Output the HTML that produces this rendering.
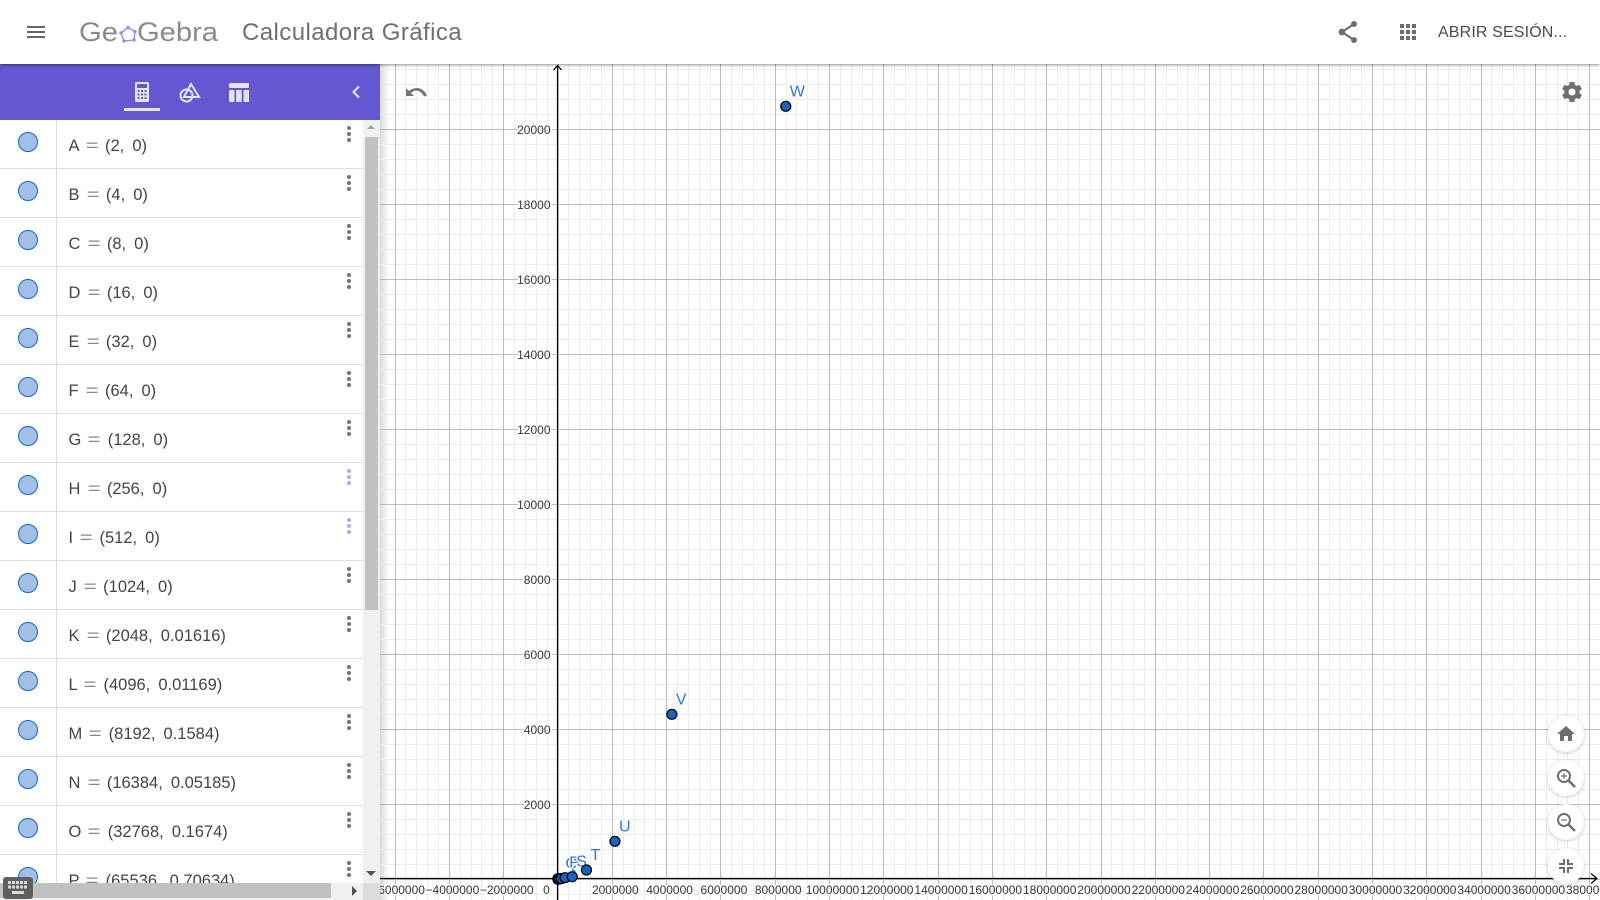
<!DOCTYPE html>
<html lang="es">
<head>
<meta charset="utf-8">
<title>GeoGebra Calculadora Gráfica</title>
<style>
html,body{margin:0;padding:0;width:1600px;height:900px;overflow:hidden;background:#fff;font-family:"Liberation Sans",sans-serif}
#graph{position:absolute;left:0;top:0;z-index:1}
#header{position:absolute;left:0;top:0;width:1600px;height:64px;background:#fff;z-index:5;box-shadow:0 1px 3px rgba(0,0,0,.45)}
#panel{position:absolute;left:0;top:64px;width:380px;height:836px;background:#fff;z-index:3;overflow:hidden}
#toolbar{position:absolute;left:0;top:0;width:380px;height:56px;background:#6557d2}
#list{position:absolute;left:0;top:56px;width:363px;height:780px;overflow:hidden}
.row{position:relative;height:48px;border-bottom:1px solid #dcdcdc;background:#fff}
.marble{position:absolute;left:18px;top:12px;width:18px;height:18px;border-radius:50%;background:#a1c0e8;border:1.5px solid #1565c0}
.divider{position:absolute;left:56px;top:0;width:1px;height:49px;background:#dcdcdc}
.expr{position:absolute;left:68.5px;top:15px;font-size:16.5px;line-height:22px;color:#444;white-space:pre;word-spacing:3.5px}
.expr i{font-style:normal;color:#888;display:inline-block;padding:0 .3px;transform:scaleX(1.35)}
.more{position:absolute;left:347px;top:6px;width:4px;height:16px}
.more b{position:absolute;left:0;width:4px;height:4px;border-radius:50%;background:#757575}
.more.hl b{background:#b3a8e8}
.more b:nth-child(1){top:0}.more b:nth-child(2){top:6px}.more b:nth-child(3){top:12px}
#vtrack{position:absolute;left:363px;top:56px;width:17px;height:780px;background:#f0f0f0}
#vthumb{position:absolute;left:365px;top:73px;width:13px;height:473px;background:#c1c1c1}
#htrack{position:absolute;left:0;top:819px;width:363px;height:17px;background:#f0f0f0}
#hthumb{position:absolute;left:0;top:819px;width:331px;height:15px;background:#c1c1c1}
#corner{position:absolute;left:363px;top:819px;width:17px;height:17px;background:#dcdcdc}
#shadow{position:absolute;left:380px;top:64px;width:10px;height:836px;z-index:0;background:linear-gradient(to right,#d8d8d8,rgba(240,240,240,.75) 60%,rgba(255,255,255,0))}
.fab{position:absolute;left:1548px;width:36px;height:36px;border-radius:50%;background:#fff;box-shadow:0 1px 4px rgba(0,0,0,.2);z-index:4}
.abs{position:absolute}
</style>
</head>
<body>
<div id="shadow"></div>
<svg id="graph" width="1600" height="900" viewBox="0 0 1600 900" xmlns="http://www.w3.org/2000/svg">
  <g id="grid-minor"></g>
  <g id="grid-major"></g>
  <g id="axes"></g>
  <g id="x-labels"></g>
  <g id="y-labels"></g>
  <g id="points"></g>
</svg>

<div id="header">
  <svg class="abs" style="left:27px;top:25px" width="18" height="14"><rect y="1" width="18" height="2" fill="#666"/><rect y="6" width="18" height="2" fill="#666"/><rect y="11" width="18" height="2" fill="#666"/></svg>
  <svg class="abs" style="left:78px;top:14px" width="146" height="36">
    <text x="1" y="27" font-family="Liberation Sans" font-size="27" fill="#8a8a8a" textLength="39" lengthAdjust="spacingAndGlyphs">Ge</text>
    <polygon points="43,19 50,13.500 57,17.500 56,26 46,27" fill="none" stroke="#8b80d8" stroke-width="1.2"/>
    <circle cx="43" cy="19" r="1.7" fill="#9a90e0"/><circle cx="50" cy="13.500" r="1.7" fill="#9a90e0"/><circle cx="57" cy="17.500" r="1.7" fill="#9a90e0"/><circle cx="56" cy="26" r="1.7" fill="#9a90e0"/><circle cx="46" cy="27" r="1.7" fill="#9a90e0"/>
    <text x="59" y="27" font-family="Liberation Sans" font-size="27" fill="#8a8a8a" textLength="81" lengthAdjust="spacingAndGlyphs">Gebra</text>
  </svg>
  <div class="abs" style="left:242px;top:18px;font-size:24px;line-height:30px;color:#6f6f6f;letter-spacing:.42px;white-space:nowrap">Calculadora Gráfica</div>
  <svg class="abs" style="left:1337px;top:20px" width="22" height="24" viewBox="0 0 22 24"><path d="M17 4L5 12L17 20" fill="none" stroke="#6e6e6e" stroke-width="2"/><circle cx="17" cy="4" r="3" fill="#6e6e6e"/><circle cx="5" cy="12" r="3.4" fill="#6e6e6e"/><circle cx="17" cy="20" r="3" fill="#6e6e6e"/></svg>
  <svg class="abs" style="left:1400px;top:24px" width="16" height="16" fill="#6e6e6e"><rect width="4" height="4"/><rect x="6" width="4" height="4"/><rect x="12" width="4" height="4"/><rect y="6" width="4" height="4"/><rect x="6" y="6" width="4" height="4"/><rect x="12" y="6" width="4" height="4"/><rect y="12" width="4" height="4"/><rect x="6" y="12" width="4" height="4"/><rect x="12" y="12" width="4" height="4"/></svg>
  <div class="abs" style="left:1438px;top:23px;font-size:16px;line-height:20px;color:#4a4a4a;letter-spacing:.14px;white-space:nowrap">ABRIR SESIÓN...</div>
</div>

<div id="panel">
  <div id="toolbar">
    <svg class="abs" style="left:135px;top:18px" width="14" height="20"><rect width="14" height="20" rx="1.5" fill="#e6e3f7"/><rect x="2" y="2" width="10" height="4" fill="#6557d2"/><g fill="#6557d2"><rect x="2.5" y="8" width="2" height="2"/><rect x="6" y="8" width="2" height="2"/><rect x="9.5" y="8" width="2" height="2"/><rect x="2.5" y="11.5" width="2" height="2"/><rect x="6" y="11.5" width="2" height="2"/><rect x="9.5" y="11.5" width="2" height="2"/><rect x="2.5" y="15" width="2" height="2"/><rect x="6" y="15" width="2" height="2"/><rect x="9.5" y="15" width="2" height="2"/></g></svg>
    <div class="abs" style="left:124px;top:44px;width:36px;height:3px;background:#e6e3f7"></div>
    <svg class="abs" style="left:179px;top:18px" width="22" height="21"><circle cx="7.5" cy="13.5" r="6" fill="none" stroke="#e6e3f7" stroke-width="2"/><path d="M12 2L20 15H5Z" fill="none" stroke="#e6e3f7" stroke-width="2"/></svg>
    <svg class="abs" style="left:229px;top:18.500px" width="20" height="19" fill="#e6e3f7"><rect width="20" height="5" rx="1"/><rect y="7" width="5.5" height="12" rx="1"/><rect x="7.2" y="7" width="5.5" height="12"/><rect x="14.5" y="7" width="5.5" height="12" rx="1"/></svg>
    <svg class="abs" style="left:351px;top:21px" width="10" height="14"><path d="M8 1.5L2.5 7L8 12.5" fill="none" stroke="#e6e3f7" stroke-width="2"/></svg>
  </div>
  <div id="list">
    <div class="row"><div class="marble"></div><div class="divider"></div><div class="expr">A <i>=</i> (2, 0)</div><div class="more"><b></b><b></b><b></b></div></div>
    <div class="row"><div class="marble"></div><div class="divider"></div><div class="expr">B <i>=</i> (4, 0)</div><div class="more"><b></b><b></b><b></b></div></div>
    <div class="row"><div class="marble"></div><div class="divider"></div><div class="expr">C <i>=</i> (8, 0)</div><div class="more"><b></b><b></b><b></b></div></div>
    <div class="row"><div class="marble"></div><div class="divider"></div><div class="expr">D <i>=</i> (16, 0)</div><div class="more"><b></b><b></b><b></b></div></div>
    <div class="row"><div class="marble"></div><div class="divider"></div><div class="expr">E <i>=</i> (32, 0)</div><div class="more"><b></b><b></b><b></b></div></div>
    <div class="row"><div class="marble"></div><div class="divider"></div><div class="expr">F <i>=</i> (64, 0)</div><div class="more"><b></b><b></b><b></b></div></div>
    <div class="row"><div class="marble"></div><div class="divider"></div><div class="expr">G <i>=</i> (128, 0)</div><div class="more"><b></b><b></b><b></b></div></div>
    <div class="row"><div class="marble"></div><div class="divider"></div><div class="expr">H <i>=</i> (256, 0)</div><div class="more hl"><b></b><b></b><b></b></div></div>
    <div class="row"><div class="marble"></div><div class="divider"></div><div class="expr">I <i>=</i> (512, 0)</div><div class="more hl"><b></b><b></b><b></b></div></div>
    <div class="row"><div class="marble"></div><div class="divider"></div><div class="expr">J <i>=</i> (1024, 0)</div><div class="more"><b></b><b></b><b></b></div></div>
    <div class="row"><div class="marble"></div><div class="divider"></div><div class="expr">K <i>=</i> (2048, 0.01616)</div><div class="more"><b></b><b></b><b></b></div></div>
    <div class="row"><div class="marble"></div><div class="divider"></div><div class="expr">L <i>=</i> (4096, 0.01169)</div><div class="more"><b></b><b></b><b></b></div></div>
    <div class="row"><div class="marble"></div><div class="divider"></div><div class="expr">M <i>=</i> (8192, 0.1584)</div><div class="more"><b></b><b></b><b></b></div></div>
    <div class="row"><div class="marble"></div><div class="divider"></div><div class="expr">N <i>=</i> (16384, 0.05185)</div><div class="more"><b></b><b></b><b></b></div></div>
    <div class="row"><div class="marble"></div><div class="divider"></div><div class="expr">O <i>=</i> (32768, 0.1674)</div><div class="more"><b></b><b></b><b></b></div></div>
    <div class="row"><div class="marble"></div><div class="divider"></div><div class="expr">P <i>=</i> (65536, 0.70634)</div><div class="more"><b></b><b></b><b></b></div></div>
  </div>
  <div id="vtrack"></div>
  <div id="vthumb"></div>
  <svg class="abs" style="left:366px;top:60px" width="10" height="6"><path d="M1 5H9L5 1Z" fill="#a0a0a0"/></svg>
  <svg class="abs" style="left:366px;top:807px" width="10" height="6"><path d="M0 0H10L5 5Z" fill="#505050"/></svg>
  <div id="htrack"></div>
  <div id="hthumb"></div>
  <div id="corner"></div>
  <svg class="abs" style="left:352px;top:822px" width="6" height="10"><path d="M0 0V10L5 5Z" fill="#505050"/></svg>
  <svg class="abs" style="left:3px;top:813px" width="30" height="22"><rect width="30" height="22" rx="3" fill="#5f5f5f"/><g fill="#d8d8d8"><rect x="5" y="4" width="3" height="3"/><rect x="9" y="4" width="3" height="3"/><rect x="13" y="4" width="3" height="3"/><rect x="17" y="4" width="3" height="3"/><rect x="21" y="4" width="3" height="3"/><rect x="5" y="8.5" width="3" height="3"/><rect x="9" y="8.5" width="3" height="3"/><rect x="13" y="8.5" width="3" height="3"/><rect x="17" y="8.5" width="3" height="3"/><rect x="21" y="8.5" width="3" height="3"/><rect x="9" y="14" width="12" height="3"/></g></svg>
</div>

<svg class="abs" style="left:406px;top:86px;z-index:4" width="22" height="14" viewBox="0 0 22 14"><path d="M0 2V10H8L5 7C9 3 15 4 18 10.500L21 9.500C17 1 9 0 3 5Z" fill="#757575"/></svg>
<svg class="abs" style="left:1560px;top:80px;z-index:4" width="24" height="24" viewBox="0 0 24 24"><path fill="#6e6e6e" d="M19.4 13c.05-.3.1-.65.1-1s-.05-.7-.1-1l2.1-1.650c.2-.15.25-.42.12-.65l-2-3.450c-.12-.22-.4-.3-.6-.22l-2.500 1c-.5-.4-1.100-.7-1.700-1L14.500 2.400c0-.25-.25-.4-.5-.4h-4c-.25 0-.45.15-.5.4l-.37 2.650c-.6.25-1.200.6-1.700 1l-2.500-1c-.22-.08-.5 0-.6.220l-2 3.450c-.13.23-.08.5.12.65L4.550 11c-.05.3-.1.65-.1 1s.05.7.1 1l-2.100 1.650c-.2.15-.25.42-.12.65l2 3.450c.12.22.4.3.6.22l2.500-1c.5.4 1.100.7 1.700 1l.37 2.650c.05.25.25.4.5.4h4c.25 0 .45-.15.5-.4l.37-2.650c.6-.25 1.200-.6 1.700-1l2.500 1c.22.08.5 0 .6-.22l2-3.450c.13-.23.08-.5-.12-.65zM12 15.500a3.500 3.500 0 1 1 0-7 3.500 3.500 0 0 1 0 7z"/></svg>

<div class="fab" style="top:716px"><svg class="abs" style="left:9px;top:10px" width="18" height="15" viewBox="0 0 18 15"><path d="M9 0L0 8H3V15H7V10H11V15H15V8H18Z" fill="#6e6e6e"/></svg></div>
<div class="fab" style="top:760px"><svg class="abs" style="left:8px;top:8px" width="20" height="20"><circle cx="8" cy="8" r="6" fill="none" stroke="#6e6e6e" stroke-width="2"/><path d="M12.500 12.500L19 19" stroke="#6e6e6e" stroke-width="2.500"/><path d="M5 8H11M8 5V11" stroke="#6e6e6e" stroke-width="1.200"/></svg></div>
<div class="fab" style="top:804px"><svg class="abs" style="left:8px;top:8px" width="20" height="20"><circle cx="8" cy="8" r="6" fill="none" stroke="#6e6e6e" stroke-width="2"/><path d="M12.500 12.500L19 19" stroke="#6e6e6e" stroke-width="2.500"/><path d="M5 8H11" stroke="#6e6e6e" stroke-width="1.200"/></svg></div>
<div class="fab" style="top:848px"><svg class="abs" style="left:11px;top:11px" width="14" height="14" fill="none" stroke="#6e6e6e" stroke-width="2"><path d="M5 0V5H0M9 0V5H14M5 14V9H0M9 14V9H14"/></svg></div>

<script>
var xTicks = [-6000000,-4000000,-2000000,2000000,4000000,6000000,8000000,10000000,12000000,14000000,16000000,18000000,20000000,22000000,24000000,26000000,28000000,30000000,32000000,34000000,36000000,38000000];
var yTicks = [2000,4000,6000,8000,10000,12000,14000,16000,18000,20000];
var pointNames = ["A","B","C","D","E","F","G","H","I","J","K","L","M","N","O","P","Q","R","S","T","U","V","W"];
var pointX = [2,4,8,16,32,64,128,256,512,1024,2048,4096,8192,16384,32768,65536,131072,262144,524288,1048576,2097152,4194304,8388608];
var pointY = [0,0,0,0,0,0,0,0,0,0,0.01616,0.01169,0.1584,0.05185,0.1674,0.70634,13,35,61,240,1005,4392,20605];
var labelledPoints = ["Q","R","S","T","U","V","W"];

var NS = "http://www.w3.org/2000/svg";
var originX = 558, originY = 879;
var xScale = 54.3 / 2000000, yScale = 75 / 2000;
var xStep = 2000000, yStep = 2000, minorDiv = 5;

function xPos(v){ return originX + v * xScale; }
function yPos(v){ return originY - v * yScale; }
function crisp(p){ return Math.floor(p) + 0.5; }
function make(tag, attrs){
  var el = document.createElementNS(NS, tag);
  for (var k in attrs) el.setAttribute(k, attrs[k]);
  return el;
}
function fmt(v){ return (v < 0 ? "\u2212" : "") + Math.abs(v); }

var gMinor = document.getElementById("grid-minor");
var gMajor = document.getElementById("grid-major");
var gAxes = document.getElementById("axes");
var gXL = document.getElementById("x-labels");
var gYL = document.getElementById("y-labels");
var gPts = document.getElementById("points");

var xMinTick = Math.min.apply(null, xTicks), xMaxTick = Math.max.apply(null, xTicks);
var yMaxTick = Math.max.apply(null, yTicks);

for (var xv = xMinTick - xStep; xv <= xMaxTick + xStep; xv += xStep / minorDiv) {
  var px = xPos(xv);
  if (px < 380 || px > 1600) continue;
  var isMajorX = Math.round(xv / (xStep / minorDiv)) % minorDiv === 0;
  var vl = make("line", {x1: crisp(px), x2: crisp(px), y1: 64, y2: 900, stroke: isMajorX ? "#bcbcbc" : "#ececec", "stroke-width": 1});
  
  
  (isMajorX ? gMajor : gMinor).appendChild(vl);
}
for (var yv = -yStep; yv <= yMaxTick + yStep; yv += yStep / minorDiv) {
  var py = yPos(yv);
  if (py < 64 || py > 900) continue;
  var isMajorY = Math.round(yv / (yStep / minorDiv)) % minorDiv === 0;
  var hl = make("line", {x1: 380, x2: 1600, y1: crisp(py), y2: crisp(py), stroke: isMajorY ? "#bcbcbc" : "#ececec", "stroke-width": 1});
  
  
  (isMajorY ? gMajor : gMinor).appendChild(hl);
}

var axisY = crisp(originY) - 1, axisX = crisp(originX) - 1;
var xAxis = make("path", {d: "M380 " + axisY + "H1596M1591 " + (axisY - 5) + "L1597 " + axisY + "L1591 " + (axisY + 5), fill: "none", stroke: "#000", "stroke-width": 1.2});


gAxes.appendChild(xAxis);
var yAxis = make("path", {d: "M" + axisX + " 900V66M" + (axisX - 4) + " 70L" + axisX + " 65.500L" + (axisX + 4) + " 70", fill: "none", stroke: "#000", "stroke-width": 1.2});


gAxes.appendChild(yAxis);

var labelStyle = 'font-family:"Liberation Sans",sans-serif;font-size:12px;fill:#333;paint-order:stroke;stroke:#fff;stroke-width:3px;stroke-linejoin:round';
xTicks.forEach(function(v){
  var t = make("text", {x: xPos(v) + 3, y: 894, "text-anchor": "middle", style: labelStyle});
  
  
  t.textContent = fmt(v);
  gXL.appendChild(t);
});
var zero = make("text", {x: originX - 11.500, y: 894, "text-anchor": "middle", style: labelStyle});


zero.textContent = "0";
gXL.appendChild(zero);
yTicks.forEach(function(v){
  var t = make("text", {x: originX - 7.500, y: yPos(v) + 5, "text-anchor": "end", style: labelStyle});
  
  
  t.textContent = fmt(v);
  gYL.appendChild(t);
});

pointNames.forEach(function(name, i){
  var cx = xPos(pointX[i]), cy = yPos(pointY[i]);
  if (labelledPoints.indexOf(name) >= 0) {
    var lab = make("text", {x: cx + 4, y: cy - 10, style: 'font-family:"Liberation Sans",sans-serif;font-size:16px;fill:#2f76cf;paint-order:stroke;stroke:#fff;stroke-width:2.500px'});
    
    
    lab.textContent = name;
    gPts.appendChild(lab);
  }
});
pointNames.forEach(function(name, i){
  var c = make("circle", {cx: xPos(pointX[i]), cy: yPos(pointY[i]), r: 5, fill: "#1565c0", stroke: "#000", "stroke-width": 1.2});
  
  
  gPts.appendChild(c);
});
</script>
</body>
</html>
